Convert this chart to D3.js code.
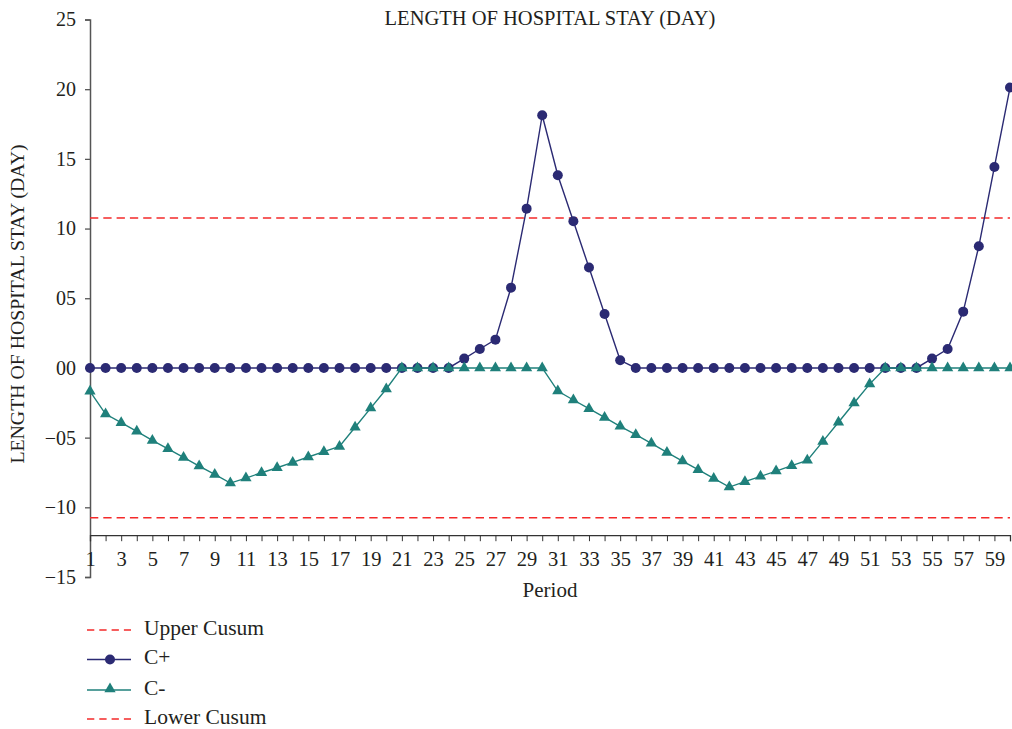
<!DOCTYPE html>
<html>
<head>
<meta charset="utf-8">
<script src="https://cdn.jsdelivr.net/npm/d3@7"></script>
<style>
  html, body { margin: 0; padding: 0; background: #fff; }
  svg { display: block; }
  text { font-family: "Liberation Serif", "DejaVu Serif", serif; fill: #231f20; }
</style>
</head>
<body>
<svg id="chart" width="1012" height="729"></svg>
<script>
// ---- data ----
const title = "LENGTH OF HOSPITAL STAY (DAY)";
const yLabel = "LENGTH OF HOSPITAL STAY (DAY)";
const xLabel = "Period";
const periods = d3.range(1, 61);
const cPlus = [
  0, 0, 0, 0, 0, 0, 0, 0, 0, 0,
  0, 0, 0, 0, 0, 0, 0, 0, 0, 0,
  0, 0, 0, 0, 0.67, 1.36, 2.03, 5.76, 11.43, 18.13,
  13.83, 10.52, 7.2, 3.87, 0.55, 0, 0, 0, 0, 0,
  0, 0, 0, 0, 0, 0, 0, 0, 0, 0,
  0, 0, 0, 0, 0.67, 1.36, 4.04, 8.73, 14.42, 20.12
];
const cMinus = [
  -1.68, -3.31, -3.93, -4.55, -5.2, -5.8, -6.42, -7.04, -7.64, -8.26,
  -7.9, -7.52, -7.16, -6.78, -6.39, -6.01, -5.63, -4.26, -2.88, -1.51,
  0, 0, 0, 0, 0, 0, 0, 0, 0, 0,
  -1.66, -2.3, -2.92, -3.55, -4.19, -4.79, -5.41, -6.06, -6.68, -7.3,
  -7.93, -8.55, -8.16, -7.78, -7.4, -7.01, -6.63, -5.27, -3.9, -2.52,
  -1.16, 0, 0, 0, 0, 0, 0, 0, 0, 0
];
const upperCusum = 10.75;
const lowerCusum = -10.75;
const yTicks = [-15, -10, -5, 0, 5, 10, 15, 20, 25];
const yTickLabels = ["\u221215", "\u221210", "\u221205", "00", "05", "10", "15", "20", "25"];
const xAxisAt = -12;
const legendItems = ["Upper Cusum", "C+", "C-", "Lower Cusum"];

// ---- styles ----
const colPlus = "#2b2a73";
const colMinus = "#1f807b";
const colLimit = "#f42a2a";
const axisCol = "#555";

const svg = d3.select("#chart");
svg.append("rect").attr("width", 1012).attr("height", 729).attr("fill", "#fff");

const x = d3.scaleLinear().domain([1, 60]).range([90, 1010]);
const y = d3.scaleLinear().domain([-15, 25]).range([577, 19.5]);

// title
svg.append("text").attr("x", 550).attr("y", 24.5).attr("text-anchor", "middle")
  .attr("font-size", 20.5).text(title);

// y axis
const yAxis = d3.axisLeft(y).tickValues(yTicks)
  .tickFormat(d => yTickLabels[yTicks.indexOf(d)]).tickSize(5).tickPadding(9);
const gy = svg.append("g").attr("transform", "translate(90,0)").call(yAxis);
gy.select(".domain").attr("stroke", axisCol).attr("stroke-width", 1.5);
gy.selectAll(".tick line").attr("stroke", axisCol).attr("stroke-width", 1.3);
gy.selectAll(".tick text").attr("font-size", 20).attr("font-family", "Liberation Serif, serif").attr("fill", "#231f20");

// y label
svg.append("text").attr("transform", "translate(23.5,304) rotate(-90)")
  .attr("text-anchor", "middle").attr("font-size", 19.8).text(yLabel);

// x axis
const xAxis = d3.axisBottom(x).tickValues(periods)
  .tickFormat(d => (d % 2 === 1 ? d : "")).tickSize(6).tickPadding(10.5);
const gx = svg.append("g").attr("transform", `translate(0,${y(xAxisAt)})`).call(xAxis);
gx.select(".domain").attr("stroke", "#333").attr("stroke-width", 1.3);
gx.selectAll(".tick line").attr("stroke", "#333").attr("stroke-width", 1);
gx.selectAll(".tick text").attr("font-size", 20.5).attr("font-family", "Liberation Serif, serif").attr("fill", "#231f20");

svg.append("text").attr("x", 550).attr("y", 596.5).attr("text-anchor", "middle")
  .attr("font-size", 21).text(xLabel);

// limit lines
[upperCusum, lowerCusum].forEach(v => {
  svg.append("line").attr("x1", x(1)).attr("x2", x(60))
    .attr("y1", y(v)).attr("y2", y(v))
    .attr("stroke", colLimit).attr("stroke-width", 1.5)
    .attr("stroke-dasharray", "8.3,5");
});

const line = d3.line().x((d, i) => x(periods[i])).y(d => y(d));

// C+
svg.append("path").datum(cPlus).attr("d", line).attr("fill", "none")
  .attr("stroke", colPlus).attr("stroke-width", 1.4);
svg.append("g").selectAll("circle").data(cPlus).join("circle")
  .attr("cx", (d, i) => x(periods[i])).attr("cy", d => y(d)).attr("r", 5)
  .attr("fill", colPlus);

// C-
svg.append("path").datum(cMinus).attr("d", line).attr("fill", "none")
  .attr("stroke", colMinus).attr("stroke-width", 1.4);
const tri = d3.symbol().type(d3.symbolTriangle).size(55);
svg.append("g").selectAll("path").data(cMinus).join("path")
  .attr("d", tri)
  .attr("transform", (d, i) => `translate(${x(periods[i])},${y(d)})`)
  .attr("fill", colMinus);

// legend
const legY = [630, 659.5, 690, 719];
legendItems.forEach((name, i) => {
  const g = svg.append("g");
  const ly = legY[i];
  if (i === 0 || i === 3) {
    g.append("line").attr("x1", 87).attr("x2", 131).attr("y1", ly).attr("y2", ly)
      .attr("stroke", colLimit).attr("stroke-width", 1.3).attr("stroke-dasharray", "7.3,5");
  } else {
    const c = i === 1 ? colPlus : colMinus;
    g.append("line").attr("x1", 87).attr("x2", 131).attr("y1", ly).attr("y2", ly)
      .attr("stroke", c).attr("stroke-width", 1.4);
    if (i === 1) {
      g.append("circle").attr("cx", 110).attr("cy", ly).attr("r", 5).attr("fill", c);
    } else {
      g.append("path").attr("d", tri).attr("transform", `translate(110,${ly - 1})`).attr("fill", c);
    }
  }
  g.append("text").attr("x", 144).attr("y", ly + 4.5).attr("font-size", 21.5).text(name);
});
</script>
</body>
</html>
